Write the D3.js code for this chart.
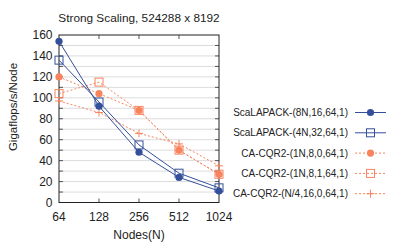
<!DOCTYPE html>
<html>
<head>
<meta charset="utf-8">
<script src="https://cdn.jsdelivr.net/npm/d3@7"></script>
<style>
	body { margin: 0; background: #fff; }
	svg { font-family: "Liberation Sans", Arial, sans-serif; }
</style>
</head>
<body>
<svg id="chart" width="399" height="242"></svg>
<script>
var nodes = [64, 128, 256, 512, 1024];
var yTicks = [0, 20, 40, 60, 80, 100, 120, 140, 160];

var scalapack8N = [154, 92, 48, 24, 11];
var scalapack4N = [136, 96, 55, 28, 14];
var cqr2_1N_8_0 = [120, 104, 88, 50, 27];
var cqr2_1N_8_1 = [104, 115, 88, 50, 27];
var cqr2_N4_16_0 = [97, 86, 66, 56, 35];

var series = [
	{name: 'ScaLAPACK-(8N,16,64,1)', values: scalapack8N, color: '#34509a', dash: null, marker: 'circle'},
	{name: 'ScaLAPACK-(4N,32,64,1)', values: scalapack4N, color: '#34509a', dash: null, marker: 'square'},
	{name: 'CA-CQR2-(1N,8,0,64,1)', values: cqr2_1N_8_0, color: '#f7845e', dash: '2,2', marker: 'circle'},
	{name: 'CA-CQR2-(1N,8,1,64,1)', values: cqr2_1N_8_1, color: '#f7845e', dash: '2,2', marker: 'square'},
	{name: 'CA-CQR2-(N/4,16,0,64,1)', values: cqr2_N4_16_0, color: '#f7845e', dash: '2,2', marker: 'plus'}
];

(function() {
	var svg = d3.select('#chart');
	var pLeft = 59, pRight = 219, pTop = 35, pBottom = 202.5;

	var x = d3.scaleLog().base(2).domain([64, 1024]).range([pLeft, pRight]);
	var y = d3.scaleLinear().domain([0, 160]).range([pBottom, pTop]);

	// grid
	svg.append('g').selectAll('line')
		.data(d3.range(10, 160, 10))
		.enter().append('line')
		.attr('x1', pLeft).attr('x2', pRight)
		.attr('y1', function(d) { return y(d); })
		.attr('y2', function(d) { return y(d); })
		.attr('stroke', '#dcdcdc').attr('stroke-width', 1);

	// inner ticks
	var tk = svg.append('g').attr('stroke', '#555').attr('stroke-width', 1);
	d3.range(10, 160, 10).forEach(function(v) {
		tk.append('line').attr('x1', pRight - 4).attr('x2', pRight).attr('y1', y(v)).attr('y2', y(v));
		tk.append('line').attr('x1', pLeft).attr('x2', pLeft + 4).attr('y1', y(v)).attr('y2', y(v));
	});
	nodes.slice(1, 4).forEach(function(n) {
		tk.append('line').attr('x1', x(n)).attr('x2', x(n)).attr('y1', pTop).attr('y2', pTop + 4);
		tk.append('line').attr('x1', x(n)).attr('x2', x(n)).attr('y1', pBottom - 4).attr('y2', pBottom);
	});

	// frame
	svg.append('rect')
		.attr('x', pLeft).attr('y', pTop)
		.attr('width', pRight - pLeft).attr('height', pBottom - pTop)
		.attr('fill', 'none').attr('stroke', '#222').attr('stroke-width', 1);

	// tick labels
	svg.append('g').selectAll('text')
		.data(yTicks).enter().append('text')
		.attr('x', pLeft - 6.5).attr('y', function(d) { return y(d) + 4.3; })
		.attr('text-anchor', 'end').attr('font-size', 12).attr('fill', '#222')
		.text(function(d) { return d; });

	svg.append('g').selectAll('text')
		.data(nodes).enter().append('text')
		.attr('x', function(d) { return x(d); }).attr('y', 220.5)
		.attr('text-anchor', 'middle').attr('font-size', 12).attr('fill', '#222')
		.text(function(d) { return d; });

	svg.append('text')
		.attr('x', 139).attr('y', 22)
		.attr('text-anchor', 'middle').attr('font-size', 11.8).attr('fill', '#222')
		.text('Strong Scaling, 524288 x 8192');

	svg.append('text')
		.attr('x', 139).attr('y', 238.5)
		.attr('text-anchor', 'middle').attr('font-size', 12).attr('fill', '#222')
		.text('Nodes(N)');

	svg.append('text')
		.attr('transform', 'translate(16.5,107) rotate(-90)')
		.attr('text-anchor', 'middle').attr('font-size', 11.5).attr('fill', '#222')
		.text('Gigaflops/s/Node');

	function drawMarker(g, s, cx, cy) {
		if(s.marker === 'circle') {
			g.append('circle').attr('cx', cx).attr('cy', cy).attr('r', 3.6).attr('fill', s.color);
		} else if(s.marker === 'square') {
			g.append('rect').attr('x', cx - 4).attr('y', cy - 4).attr('width', 8).attr('height', 8)
				.attr('fill', 'none').attr('stroke', s.color).attr('stroke-width', 1);
		} else {
			g.append('path').attr('d', 'M' + (cx - 4) + ',' + cy + 'H' + (cx + 4) + 'M' + cx + ',' + (cy - 4) + 'V' + (cy + 4))
				.attr('stroke', s.color).attr('stroke-width', 1);
		}
	}

	var line = d3.line()
		.x(function(d, i) { return x(nodes[i]); })
		.y(function(d) { return y(d); });

	// orange first, blue on top
	series.slice().reverse().forEach(function(s) {
		var g = svg.append('g');
		g.append('path').attr('d', line(s.values))
			.attr('fill', 'none').attr('stroke', s.color).attr('stroke-width', 1)
			.attr('stroke-dasharray', s.dash);
		s.values.forEach(function(v, i) {
			drawMarker(g, s, x(nodes[i]), y(v));
		});
	});

	// legend
	var lg = svg.append('g');
	series.forEach(function(s, i) {
		var ly = 112.5 + i * 20.3;
		lg.append('text').attr('x', 348).attr('y', ly + 3.5)
			.attr('text-anchor', 'end').attr('font-size', 10).attr('fill', '#222')
			.text(s.name);
		lg.append('line').attr('x1', 355).attr('x2', 386).attr('y1', ly).attr('y2', ly)
			.attr('stroke', s.color).attr('stroke-width', 1).attr('stroke-dasharray', s.dash);
		drawMarker(lg, s, 370.5, ly);
	});
})();
</script>
</body>
</html>
